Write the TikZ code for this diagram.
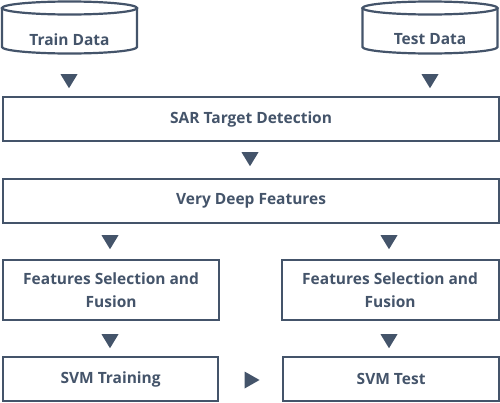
\documentclass[tikz,border=0pt]{standalone}
\usepackage{fontspec}
\setmainfont{Open Sans}
\usetikzlibrary{shapes.geometric}
\definecolor{slate}{HTML}{44546A}
\tikzset{
  box/.style={draw=slate, line width=2.2pt, fill=white, text=slate, font=\bfseries\fontsize{15.5}{23}\selectfont, align=center, inner sep=0pt, anchor=north west},
  lbl/.style={text=slate, font=\bfseries\fontsize{15.5}{23}\selectfont, inner sep=0pt},
  tridown/.style={isosceles triangle, isosceles triangle stretches, shape border rotate=-90, fill=slate, minimum width=17pt, minimum height=14pt, inner sep=0pt},
  triright/.style={isosceles triangle, isosceles triangle stretches, shape border rotate=0, fill=slate, minimum width=17pt, minimum height=15pt, inner sep=0pt},
  cyl/.style={draw=slate, line width=2.2pt, fill=white}
}
\begin{document}
\begin{tikzpicture}[x=1pt,y=-1pt]
\useasboundingbox (0,0) rectangle (500,402);
% cylinders
\foreach \cx/\nm/\tx in {69.5/train/Train Data, 430/test/Test Data}{
  \draw[cyl] (\cx-67.5,8) -- (\cx-67.5,47) arc[start angle=180, end angle=0, x radius=67.5, y radius=6.5] -- (\cx+67.5,8);
  \draw[cyl] (\cx,8) ellipse[x radius=67.5, y radius=6.5];
  \node[lbl] (\nm) at (\cx,39.5) {\tx};
}
% boxes
\node[box, minimum width=496pt, minimum height=44pt] (sar) at (2,96) {\raisebox{-2pt}{SAR Target Detection}};
\node[box, minimum width=496pt, minimum height=44pt] (vdf) at (2,178) {Very Deep Features};
\node[box, minimum width=216pt, minimum height=60pt] (fsl) at (2,259) {Features Selection and\\Fusion};
\node[box, minimum width=217pt, minimum height=60pt] (fsr) at (280.5,259) {Features Selection and\\Fusion};
\node[box, minimum width=215pt, minimum height=44pt] (svmtr) at (2,356) {\raisebox{-1pt}{SVM Training}};
\node[box, minimum width=216pt, minimum height=44pt] (svmte) at (282,356) {\raisebox{-1pt}{SVM Test}};
% triangles
\node[tridown] (t1) at (69,79) {};
\node[tridown] (t2) at (430,79) {};
\node[tridown] (t3) at (250,157) {};
\node[tridown] (t4) at (110,240) {};
\node[tridown] (t5) at (389,240) {};
\node[tridown] (t6) at (110,339) {};
\node[tridown] (t7) at (389,339) {};
\node[triright] (t8) at (249.5,380) {};
\end{tikzpicture}
\end{document}
